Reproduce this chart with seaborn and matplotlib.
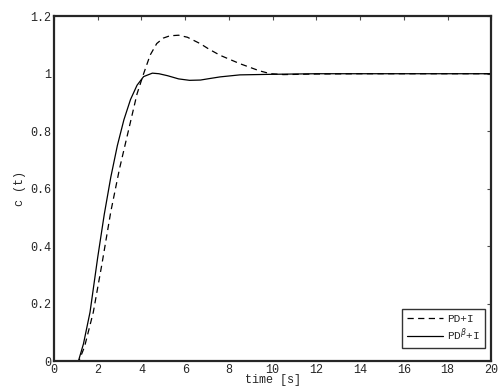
import pandas as pd
import matplotlib
matplotlib.use("Agg")
import matplotlib.pyplot as plt
import seaborn as sns

# step responses
t_pd = [0, 1.14, 1.4, 1.8, 2.2, 2.6, 3.0, 3.4, 3.8, 4.1, 4.4, 4.7,
        5.0, 5.3, 5.7, 6.1, 6.68, 7.1, 7.6, 8.5, 9.4, 9.9, 10.5,
        12, 14, 16, 18, 20]
y_pd = [0, 0, 0.05, 0.17, 0.34, 0.52, 0.67, 0.80, 0.93, 1.0, 1.065, 1.105,
        1.124, 1.132, 1.134, 1.127, 1.105, 1.085, 1.064, 1.035, 1.01, 1.0, 0.997,
        0.999, 1.0, 1.0, 1.0, 1.0]

t_pdb = [0, 1.12, 1.35, 1.65, 2.0, 2.3, 2.6, 2.9, 3.2, 3.5, 3.8, 4.1,
         4.5, 4.8, 5.2, 5.7, 6.2, 6.7, 7.1, 7.6, 8.5, 10, 12, 20]
y_pdb = [0, 0, 0.06, 0.17, 0.36, 0.51, 0.64, 0.75, 0.84, 0.91, 0.96, 0.99,
         1.002, 1.0, 0.993, 0.982, 0.977, 0.978, 0.983, 0.989, 0.996, 0.998, 1.0, 1.0]

x_ticks = [0, 2, 4, 6, 8, 10, 12, 14, 16, 18, 20]
y_ticks = [0, 0.2, 0.4, 0.6, 0.8, 1, 1.2]
y_tick_labels = ["0", "0.2", "0.4", "0.6", "0.8", "1", "1.2"]

df = pd.concat([
    pd.DataFrame({"t": t_pd, "c": y_pd, "ctrl": "PD+I"}),
    pd.DataFrame({"t": t_pdb, "c": y_pdb, "ctrl": r"PD$^{\beta}$+I"}),
])

sns.set_style("white")
plt.rcParams["font.family"] = ["Liberation Mono", "DejaVu Sans"]
plt.rcParams["mathtext.fontset"] = "custom"
plt.rcParams["mathtext.rm"] = "Liberation Mono"

fig, ax = plt.subplots(figsize=(5.04, 3.87), dpi=100)
sns.lineplot(data=df, x="t", y="c", hue="ctrl", style="ctrl",
             palette=["black", "black"], dashes=[(5, 3.5), ""],
             linewidth=0.9, ax=ax, legend=True)

ax.set_xlim(0, 20)
ax.set_ylim(0, 1.2)
ax.set_xticks(x_ticks)
ax.set_yticks(y_ticks)
ax.set_yticklabels(y_tick_labels)
ax.tick_params(direction="in", top=True, right=True, length=3, width=0.8,
               labelsize=8.5, pad=2, color="0.3")
for s in ax.spines.values():
    s.set_linewidth(1.6)
    s.set_color("0.15")

ax.set_xlabel("time [s]", fontsize=8.5, labelpad=-1)
ax.set_ylabel("c (t)", fontsize=8.5, labelpad=3)

leg = ax.legend(loc="lower right", fontsize=8, frameon=True, fancybox=False,
                edgecolor="black", handlelength=3.2, handletextpad=0.4,
                borderpad=0.45, labelspacing=0.25, borderaxespad=0,
                bbox_to_anchor=(0.986, 0.038))
leg.get_frame().set_linewidth(1.0)

fig.subplots_adjust(left=0.107, right=0.975, top=0.958, bottom=0.067)
fig.savefig("out.png", dpi=100)
